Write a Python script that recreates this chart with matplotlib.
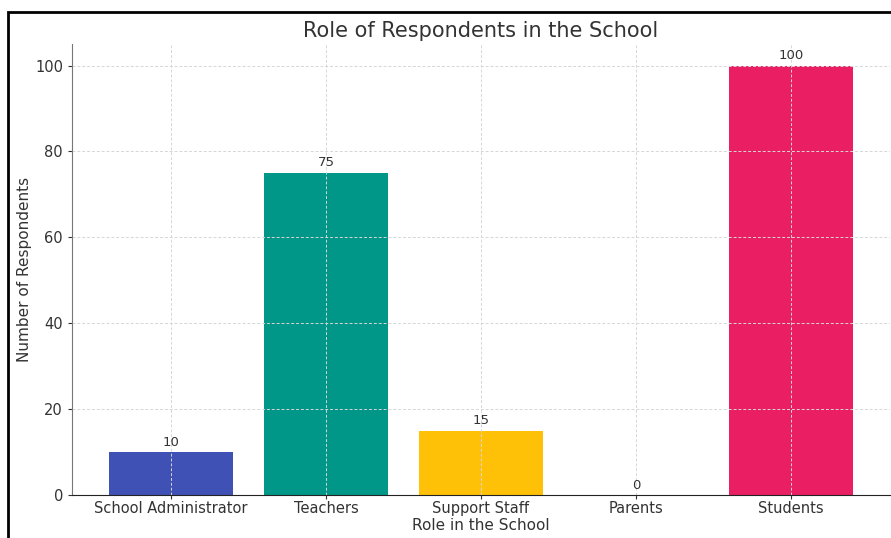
import matplotlib.pyplot as plt
from matplotlib.patches import Rectangle

roles = ['School Administrator', 'Teachers', 'Support Staff', 'Parents', 'Students']
counts = [10, 75, 15, 0, 100]
colors = ['#3F51B5', '#009688', '#FFC107', '#4CAF50', '#E91E63']

fig = plt.figure(figsize=(8.91, 5.38), dpi=100)
ax = fig.add_axes([0.0808, 0.080, 0.918, 0.838])

bars = ax.bar(roles, counts, color=colors, width=0.8)
for b, v in zip(bars, counts):
    ax.text(b.get_x() + b.get_width() / 2, v + 0.8, str(v),
            ha='center', va='bottom', fontsize=9.5, color='#333333')

ax.set_ylim(0, 105)
ax.set_title('Role of Respondents in the School', fontsize=15, color='#333333', pad=5)
ax.set_xlabel('Role in the School', fontsize=11, color='#333333', labelpad=1)
ax.set_ylabel('Number of Respondents', fontsize=11, color='#333333')
ax.yaxis.set_label_coords(-0.049, 0.5)
ax.tick_params(labelsize=10.5, colors='#333333', length=3)
ax.tick_params(axis='x', pad=1.5)
ax.grid(True, linestyle=(0, (3, 2)), color='#d6d6d6', linewidth=0.7)
ax.spines['top'].set_visible(False)
ax.spines['right'].set_visible(False)
ax.spines['left'].set_color('#777777')
ax.spines['bottom'].set_color('#222222')

# frame around the figure
fig.patches.append(Rectangle((0.0095, -0.05), 1.2, 1.028, transform=fig.transFigure,
                             fill=False, edgecolor='black', linewidth=2))

fig.savefig('out.png', dpi=100)
